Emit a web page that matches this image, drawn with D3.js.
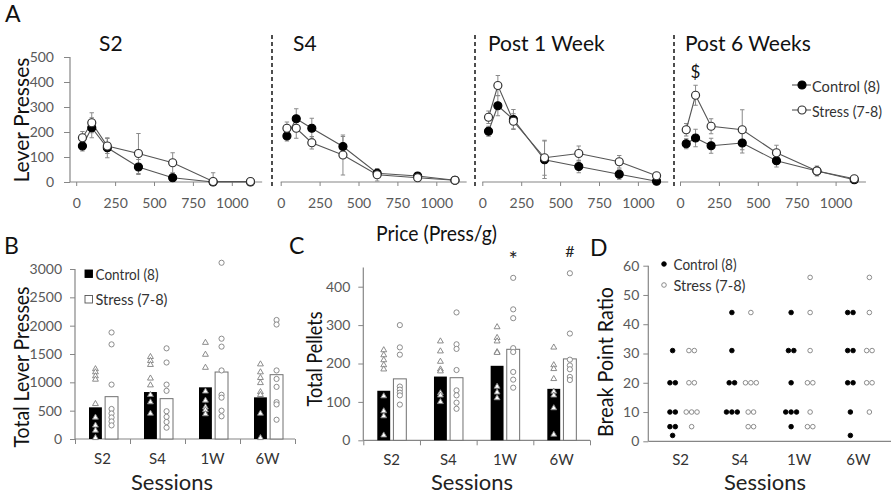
<!DOCTYPE html>
<html><head><meta charset="utf-8">
<script src="https://cdn.jsdelivr.net/npm/d3@7"></script>
<style>
body{margin:0;background:#fff;}
svg{display:block;}
text{font-family:Lato,"Open Sans",sans-serif;}
</style></head><body>
<svg id="c" width="894" height="496"></svg>
<script>
// ---------------- DATA ----------------
const prices = [40, 100, 200, 400, 620, 880, 1120];
const priceTicks = [0, 250, 500, 750, 1000];
const pressTicksA = [0, 100, 200, 300, 400, 500];
const phaseTitles = ["S2", "S4", "Post 1 Week", "Post 6 Weeks"];
const controlMean = [
  [144, 217, 137, 60, 17, 0, 0],
  [184, 253, 215, 142, 35, 24, 7],
  [203, 305, 250, 89, 62, 31, 3],
  [153, 176, 145, 156, 85, 44, 9]
];
const controlErr = [
  [20, 40, 40, 30, 15, 0, 0],
  [20, 40, 40, 40, 10, 10, 0],
  [20, 40, 40, 75, 25, 20, 0],
  [20, 35, 30, 40, 25, 15, 0]
];
const stressMean = [
  [177, 237, 144, 114, 77, 2, 2],
  [215, 215, 157, 108, 29, 17, 7],
  [259, 386, 243, 97, 114, 81, 25],
  [209, 347, 223, 209, 117, 44, 13]
];
const stressErr = [
  [25, 40, 30, 80, 40, 35, 0],
  [25, 40, 25, 80, 25, 10, 0],
  [25, 40, 30, 70, 30, 25, 0],
  [25, 40, 30, 80, 30, 20, 0]
];

const sessions = ["S2", "S4", "1W", "6W"];
const groups = ["Control (8)", "Stress (7-8)"];

const pressTicks = [0, 500, 1000, 1500, 2000, 2500, 3000];
const pressCtrlMean = [559, 829, 912, 735];
const pressStrMean = [747, 712, 1182, 1135];
const pressCtrlInd = [
  [1235, 1180, 1110, 1050, 620, 380, 240, 150, 20],
  [1450, 1380, 1310, 1070, 950, 780, 650, 450],
  [1700, 1490, 1260, 840, 680, 560, 510, 440],
  [1320, 1180, 1080, 990, 830, 780, 450, 20]
];
const pressStrInd = [
  [1880, 1670, 960, 530, 450, 380, 310, 240],
  [1600, 1350, 960, 850, 490, 390, 300, 200],
  [3110, 1770, 1630, 1210, 780, 730, 500, 400],
  [2100, 2020, 1210, 1060, 920, 650, 610, 340]
];

const pelletTicks = [0, 100, 200, 300, 400];
const pelletCtrlMean = [129, 166, 194, 134];
const pelletStrMean = [160, 163, 237, 212];
const pelletCtrlInd = [
  [235, 222, 209, 196, 185, 115, 76, 63, 13],
  [258, 232, 205, 185, 180, 123, 117, 100],
  [295, 267, 258, 230, 228, 140, 125, 110],
  [242, 196, 186, 160, 127, 117, 84, 15]
];
const pelletStrInd = [
  [300, 242, 223, 140, 132, 124, 117, 93],
  [333, 250, 238, 183, 130, 117, 98, 82],
  [423, 341, 318, 240, 230, 178, 158, 137],
  [435, 278, 210, 195, 185, 165, 157]
];
const pelletMarks = ["", "", "*", "#"];

const bpTicks = [0, 10, 20, 30, 40, 50, 60];
const bpCtrl = [
  [31, 20, 20, 10, 10, 5, 5, 2],
  [44, 31, 20, 20, 10, 10, 10],
  [44, 31, 31, 20, 10, 10, 10, 5],
  [44, 44, 31, 31, 20, 20, 10, 2]
];
const bpStr = [
  [31, 31, 20, 20, 10, 10, 10, 5],
  [44, 20, 20, 20, 10, 10, 5, 5],
  [56, 44, 31, 20, 20, 10, 5, 5],
  [56, 44, 31, 31, 20, 20, 10]
];

// ---------------- STYLE ----------------
const AX = "#868686", TL = "#595959", PT = "#7f7f7f";
const svg = d3.select("#c");
const fmt = d3.format("d");

function squeeze(t, w) {
  return t.attr("textLength", w).attr("lengthAdjust", "spacingAndGlyphs");
}
function styleAxis(g, fs) {
  g.selectAll("line").attr("stroke", AX);
  g.selectAll("path.domain").remove();
  g.selectAll("text").attr("fill", TL).attr("font-size", fs)
    .attr("font-family", "Lato, sans-serif");
}
function panelLabel(txt, x, y) {
  svg.append("text").attr("x", x).attr("y", y).text(txt)
    .attr("font-family", "'Liberation Sans', Arial, sans-serif")
    .attr("font-size", 23).attr("fill", "#111");
}
function rotLabel(txt, cx, cy, fs, w) {
  squeeze(svg.append("text").attr("transform", `translate(${cx},${cy}) rotate(-90)`)
    .attr("x", -w / 2).attr("dominant-baseline", "central")
    .attr("font-size", fs).attr("fill", "#111").text(txt), w);
}
function sessLabel(x) {
  squeeze(svg.append("text").attr("x", x - 41).attr("y", 490)
    .attr("font-size", 22).attr("fill", "#222").text("Sessions"), 82);
}

// ---------------- PANEL A ----------------
panelLabel("A", 5, 22);
const yA = d3.scaleLinear().domain([0, 500]).range([182, 57]);
const kA = 0.1556;
const x0s = [76.2, 280.7, 482.3, 680];
const dashX = [272, 475, 674];
const titleX = [99, 293, 488, 685];

dashX.forEach(x => svg.append("line").attr("x1", x).attr("x2", x).attr("y1", 35).attr("y2", 186)
  .attr("stroke", "#222").attr("stroke-width", 1.6).attr("stroke-dasharray", "4,3"));

phaseTitles.forEach((title, i) => {
  const x = d3.scaleLinear().domain([0, 1200]).range([x0s[i], x0s[i] + 1200 * kA]);
  const g = svg.append("g");
  const axStart = i === 0 ? 70 : x0s[i];
  g.append("line").attr("x1", axStart).attr("x2", x(1195)).attr("y1", yA(0)).attr("y2", yA(0))
    .attr("stroke", AX).attr("stroke-width", 1.2);
  const ax = g.append("g").attr("transform", `translate(0,${yA(0)})`)
    .call(d3.axisBottom(x).tickValues(priceTicks).tickFormat(fmt).tickSize(4).tickSizeOuter(0).tickPadding(12));
  styleAxis(ax, 14);
  if (i === 0) {
    g.append("line").attr("x1", 70).attr("x2", 70).attr("y1", yA(500)).attr("y2", yA(0))
      .attr("stroke", AX).attr("stroke-width", 1.2);
    const ay = g.append("g").attr("transform", "translate(70,0)")
      .call(d3.axisLeft(yA).tickValues(pressTicksA).tickFormat(fmt).tickSize(6).tickSizeOuter(0).tickPadding(10));
    styleAxis(ay, 14);
  }
  g.append("text").attr("x", titleX[i]).attr("y", 51).text(title)
    .attr("font-family", "'Liberation Sans', Arial, sans-serif").attr("font-size", 21).attr("fill", "#111");

  const series = [
    {m: controlMean[i], e: controlErr[i], fill: "#000", stroke: "#000"},
    {m: stressMean[i], e: stressErr[i], fill: "#fff", stroke: "#333"}
  ];
  series.forEach(s => {
    s.m.forEach((v, j) => {
      if (!s.e[j]) return;
      const cx = x(prices[j]);
      const lo = Math.max(0, v - s.e[j]), hi = v + s.e[j];
      g.append("line").attr("x1", cx).attr("x2", cx).attr("y1", yA(lo)).attr("y2", yA(hi))
        .attr("stroke", "#8a8a8a").attr("stroke-width", 1);
      [hi, lo].forEach(vv =>
        g.append("line").attr("x1", cx - 2.2).attr("x2", cx + 2.2).attr("y1", yA(vv)).attr("y2", yA(vv))
          .attr("stroke", "#8a8a8a").attr("stroke-width", 1));
    });
  });
  const line = d3.line().x((d, j) => x(prices[j])).y(d => yA(d));
  series.forEach(s => g.append("path").attr("d", line(s.m)).attr("fill", "none")
    .attr("stroke", "#555").attr("stroke-width", 1.1));
  series.forEach(s => g.selectAll(null).data(s.m).enter().append("circle")
    .attr("cx", (d, j) => x(prices[j])).attr("cy", d => yA(d)).attr("r", 4)
    .attr("fill", s.fill).attr("stroke", s.stroke).attr("stroke-width", 1.2));
  if (i === 3) {
    g.append("text").attr("x", x(prices[1])).attr("y", yA(stressMean[3][1] + stressErr[3][1]) - 7)
      .attr("text-anchor", "middle").attr("font-size", 17).attr("fill", "#111").text("$");
  }
});
[["Control (8)", "#000", "#000", 85, 68], ["Stress (7-8)", "#fff", "#333", 110, 70]].forEach(([lab, f, s, y, w]) => {
  svg.append("line").attr("x1", 792).attr("x2", 811).attr("y1", y).attr("y2", y).attr("stroke", "#555").attr("stroke-width", 1.1);
  svg.append("circle").attr("cx", 802).attr("cy", y).attr("r", 4).attr("fill", f).attr("stroke", s).attr("stroke-width", 1.2);
  squeeze(svg.append("text").attr("x", 812).attr("y", y).attr("dominant-baseline", "central")
    .attr("font-size", 16).attr("fill", "#333").text(lab), w);
});
rotLabel("Lever Presses", 20, 120, 22, 125);
squeeze(svg.append("text").attr("x", 376).attr("y", 232).attr("dominant-baseline", "central")
  .attr("font-size", 21).attr("fill", "#111").text("Price (Press/g)"), 121);

// ---------------- BAR PANELS (B, C) ----------------
function barPanel(opt) {
  const {x0, x1, y0, yTop, dom, ticks, ctrlMean, strMean, ctrlInd, strInd, yLabel, ylx, yly, ylw, sessX, marks, legend} = opt;
  const xb = d3.scaleBand().domain(sessions).range([x0, x1]);
  const xi = d3.scaleBand().domain(groups).range([14, 43]).paddingInner(0.2);
  const y = d3.scaleLinear().domain(dom).range([y0, yTop]);
  const g = svg.append("g");
  g.append("line").attr("x1", x0).attr("x2", x0).attr("y1", y(dom[1])).attr("y2", y0).attr("stroke", AX).attr("stroke-width", 1.2);
  g.append("line").attr("x1", x0).attr("x2", x1).attr("y1", y0).attr("y2", y0).attr("stroke", AX).attr("stroke-width", 1.2);
  const ay = g.append("g").attr("transform", `translate(${x0},0)`)
    .call(d3.axisLeft(y).tickValues(ticks).tickFormat(fmt).tickSize(5).tickSizeOuter(0).tickPadding(8));
  styleAxis(ay, 14);
  const edge = d3.scaleLinear().domain([0, sessions.length]).range([x0, x1]);
  const ae = g.append("g").attr("transform", `translate(0,${y0})`)
    .call(d3.axisBottom(edge).tickValues(d3.range(sessions.length + 1)).tickSize(5).tickFormat(""));
  styleAxis(ae, 14);
  const ac = g.append("g").attr("transform", `translate(0,${y0})`)
    .call(d3.axisBottom(xb).tickSize(0).tickPadding(14));
  styleAxis(ac, 15);
  ac.selectAll("text").attr("fill", "#333");
  sessions.forEach((s, i) => {
    const bx = xb(s);
    g.append("rect").attr("x", bx + xi(groups[0])).attr("width", xi.bandwidth()).attr("y", y(ctrlMean[i]))
      .attr("height", y0 - y(ctrlMean[i])).attr("fill", "#000");
    g.append("rect").attr("x", bx + xi(groups[1])).attr("width", xi.bandwidth()).attr("y", y(strMean[i]))
      .attr("height", y0 - y(strMean[i])).attr("fill", "#fff").attr("stroke", "#707070").attr("stroke-width", 1);
    const cxC = bx + xi(groups[0]) + xi.bandwidth() / 2;
    const cxS = bx + xi(groups[1]) + xi.bandwidth() / 2;
    g.selectAll(null).data(ctrlInd[i]).enter().append("path")
      .attr("d", d3.symbol(d3.symbolTriangle, 15)())
      .attr("transform", d => `translate(${cxC},${y(d)})`)
      .attr("fill", "#fff").attr("stroke", PT).attr("stroke-width", 0.9);
    g.selectAll(null).data(strInd[i]).enter().append("circle")
      .attr("cx", cxS).attr("cy", d => y(d)).attr("r", 2.6)
      .attr("fill", "#fff").attr("stroke", PT).attr("stroke-width", 0.9);
    if (marks && marks[i]) {
      g.append("text").attr("x", cxS).attr("y", marks[i] === "*" ? 267 : 257).attr("text-anchor", "middle")
        .attr("font-size", marks[i] === "*" ? 22 : 16).attr("fill", "#222").text(marks[i]);
    }
  });
  rotLabel(yLabel, ylx, yly, 22, ylw);
  sessLabel(sessX);
  if (legend) {
    [[groups[0], "#000", 273.5, 63], [groups[1], "#fff", 299, 72]].forEach(([lab, f, yy, w]) => {
      g.append("rect").attr("x", 85).attr("y", yy - 3.5).attr("width", 7.5).attr("height", 7.5)
        .attr("fill", f).attr("stroke", f === "#000" ? "#000" : "#555").attr("stroke-width", 0.9);
      squeeze(g.append("text").attr("x", 95.5).attr("y", yy).attr("dominant-baseline", "central")
        .attr("font-size", 15).attr("fill", "#333").text(lab), w);
    });
  }
}
panelLabel("B", 4, 254);
barPanel({x0: 75, x1: 295, y0: 439, yTop: 269, dom: [0, 3000], ticks: pressTicks,
  ctrlMean: pressCtrlMean, strMean: pressStrMean, ctrlInd: pressCtrlInd, strInd: pressStrInd,
  yLabel: "Total Lever Presses", ylx: 20, yly: 367, ylw: 161, sessX: 172, legend: true});
panelLabel("C", 289, 254);
barPanel({x0: 363.3, x1: 590, y0: 440.3, yTop: 267.5, dom: [0, 450], ticks: pelletTicks,
  ctrlMean: pelletCtrlMean, strMean: pelletStrMean, ctrlInd: pelletCtrlInd, strInd: pelletStrInd,
  yLabel: "Total Pellets", ylx: 313, yly: 359, ylw: 95, sessX: 472, marks: pelletMarks});

// ---------------- PANEL D ----------------
panelLabel("D", 590, 256);
(function () {
  const xd = d3.scaleBand().domain(sessions).range([651, 888]);
  const y = d3.scaleLinear().domain([0, 60]).range([441.3, 265.7]);
  const g = svg.append("g");
  g.append("line").attr("x1", 648.3).attr("x2", 648.3).attr("y1", y(60)).attr("y2", y(0)).attr("stroke", AX).attr("stroke-width", 1.2);
  g.append("line").attr("x1", 648.3).attr("x2", 891).attr("y1", y(0)).attr("y2", y(0)).attr("stroke", AX).attr("stroke-width", 1.2);
  const ay = g.append("g").attr("transform", "translate(648.3,0)")
    .call(d3.axisLeft(y).tickValues(bpTicks).tickFormat(fmt).tickSize(5).tickSizeOuter(0).tickPadding(4));
  styleAxis(ay, 14);
  const ac = g.append("g").attr("transform", `translate(0,${y(0)})`)
    .call(d3.axisBottom(xd).tickSize(0).tickPadding(13));
  styleAxis(ac, 15);
  ac.selectAll("text").attr("fill", "#333").attr("font-family", "'Liberation Sans', Arial, sans-serif");
  const sp = 5.4;
  sessions.forEach((s, i) => {
    const c = xd(s) + xd.bandwidth() / 2;
    [[bpCtrl[i], c - 8, "#000", "#000"], [bpStr[i], c + 11, "#fff", PT]].forEach(([vals, gx, f, st]) => {
      const counts = d3.rollups(vals, v => v.length, d => d);
      counts.forEach(([v, n]) => {
        for (let k = 0; k < n; k++) {
          g.append("circle").attr("cx", gx + (k - (n - 1) / 2) * sp).attr("cy", y(v)).attr("r", 2.3)
            .attr("fill", f).attr("stroke", st).attr("stroke-width", 0.9);
        }
      });
    });
  });
  [[groups[0], "#000", "#000", 264, 63], [groups[1], "#fff", PT, 285, 72]].forEach(([lab, f, st, yy, w]) => {
    g.append("circle").attr("cx", 664).attr("cy", yy).attr("r", 2.3).attr("fill", f).attr("stroke", st).attr("stroke-width", 0.9);
    squeeze(g.append("text").attr("x", 673.5).attr("y", yy).attr("dominant-baseline", "central")
      .attr("font-size", 15).attr("fill", "#333").text(lab), w);
  });
  rotLabel("Break Point Ratio", 604, 362, 21, 150);
  sessLabel(765);
})();
</script></body></html>
